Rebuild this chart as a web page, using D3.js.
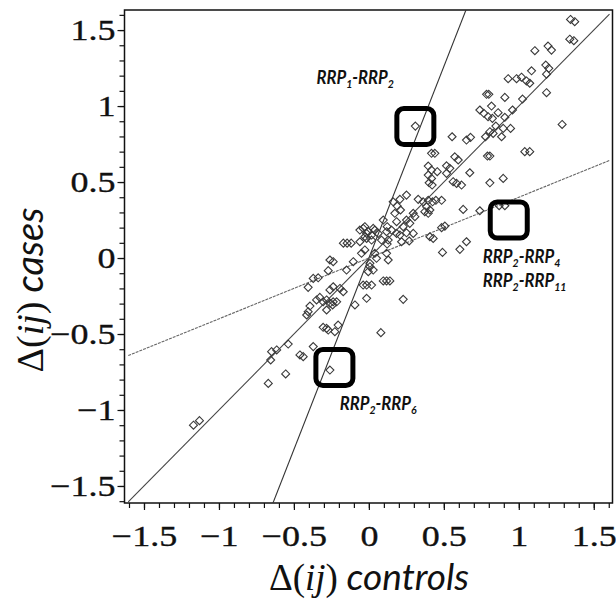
<!DOCTYPE html>
<html><head><meta charset="utf-8">
<script src="https://cdn.jsdelivr.net/npm/d3@7"></script>
<style>body{margin:0;background:#fff}</style>
</head><body><svg id="c" width="616" height="600"></svg>
<script>
// Δ(ij) controls (x) and Δ(ij) cases (y)
const controls = [1.345,1.373,1.34,1.367,1.195,1.218,1.107,1.18,1.2,1.085,1.185,0.929,0.985,1.018,1.051,1.073,0.785,0.80,0.907,1.025,1.185,0.74,0.818,0.767,0.795,0.862,0.824,0.907,0.958,0.847,0.807,0.829,0.896,0.945,0.778,0.885,1.289,1.04,1.073,0.555,0.651,0.678,0.791,0.807,0.418,0.44,0.396,0.418,0.573,0.596,0.518,0.54,0.673,0.396,0.418,0.402,0.422,0.562,0.585,0.618,0.456,0.518,0.807,0.896,0.629,0.74,0.869,0.907,0.251,0.207,0.162,0.189,0.211,0.173,0.329,0.362,0.396,0.425,0.447,0.485,0.385,0.407,0.373,0.396,0.296,0.307,0.251,0.273,0.229,0.185,0.096,0.122,0.151,0.185,0.207,-0.17,-0.145,-0.118,0.507,0.485,0.429,0.407,0.651,0.607,0.31,-0.06,-0.027,-0.004,0.018,0.04,0.062,-0.015,0.018,0.084,0.122,0.251,0.296,0.269,0.218,0.491,0.118,0.129,-0.015,-0.038,0.029,-0.027,-0.06,-0.027,-0.049,0.04,0.051,0.007,0.118,0.129,-0.104,0.007,0.029,-0.004,-0.038,-0.015,0.018,0.096,0.118,0.14,-0.015,0.229,0.08,-0.093,-0.26,-0.238,-0.271,-0.149,-0.371,-0.338,-0.405,-0.238,-0.193,-0.26,-0.171,-0.327,-0.349,-0.305,-0.282,-0.26,-0.238,-0.393,-0.415,-0.405,-0.282,-0.242,-0.215,-0.305,-0.282,-0.271,-0.227,-0.205,-0.538,-0.649,-0.615,-0.655,-0.46,-0.438,-0.555,-0.671,-0.371,-0.26,-1.17,-1.13];
const cases = [1.57,1.555,1.44,1.43,1.395,1.368,1.364,1.27,1.248,1.232,1.21,1.18,1.18,1.19,1.165,1.15,1.077,1.077,1.057,1.046,1.088,0.974,1.0,0.952,0.93,0.956,0.919,0.926,0.974,0.868,0.831,0.82,0.853,0.853,0.798,0.798,0.879,0.7,0.7,0.798,0.776,0.794,0.671,0.671,0.689,0.689,0.605,0.579,0.666,0.645,0.607,0.59,0.561,0.546,0.524,0.495,0.48,0.502,0.491,0.48,0.568,0.557,0.495,0.524,0.32,0.311,0.344,0.344,0.414,0.386,0.37,0.342,0.316,0.294,0.386,0.37,0.38,0.37,0.38,0.38,0.337,0.316,0.305,0.294,0.294,0.272,0.25,0.228,0.206,0.239,0.25,0.206,0.184,0.162,0.151,0.098,0.098,0.098,0.21,0.2,0.129,0.14,0.107,0.057,0.868,0.184,0.206,0.173,0.151,0.184,0.162,0.129,0.118,0.118,0.092,0.166,0.162,0.112,0.107,0.037,0.173,0.118,0.162,0.195,0.195,0.14,0.107,0.053,0.031,0.031,-0.002,-0.035,0.031,-0.013,-0.024,-0.057,-0.079,-0.09,-0.178,-0.178,-0.178,-0.151,-0.151,-0.151,-0.265,-0.272,-0.491,-0.309,-0.013,-0.024,-0.083,-0.079,-0.134,-0.13,-0.193,-0.189,-0.2,-0.21,-0.222,-0.259,-0.276,-0.288,-0.276,-0.298,-0.288,-0.316,-0.375,-0.353,-0.342,-0.309,-0.288,-0.456,-0.463,-0.474,-0.485,-0.441,-0.566,-0.616,-0.605,-0.671,-0.638,-0.649,-0.763,-0.825,-0.583,-0.737,-1.1,-1.07];

// fitted lines through the origin (slopes)
const lineSlopes = [2.52, 1.0, 0.40];
const lineColor = ["#333", "#444", "#666"];
const lineDash = [null, null, "3,1"];

const majorTicks = [-1.5,-1,-0.5,0,0.5,1,1.5];
const tickLabels = ["\u22121.5","\u22121","\u22120.5","0","0.5","1","1.5"];
const minorTicks = d3.range(-16,17).map(d=>d/10);

// annotation boxes (centres in data units) and labels
const boxX = [0.31, 0.933, -0.23];
const boxY = [0.865, 0.25, -0.72];
const labelText = [["RRP","1","-RRP","2"],["RRP","2","-RRP","4"],["RRP","2","-RRP","11"],["RRP","2","-RRP","6"]];
const labelX = [-0.35, 0.76, 0.76, -0.195];
const labelY = [1.145, -0.03, -0.19, -1.002];

const svg = d3.select("#c");
const x = d3.scaleLinear().domain([-1.63,1.625]).range([124.5,612.5]);
const y = d3.scaleLinear().domain([-1.612,1.632]).range([503,10]);

svg.append("defs").append("clipPath").attr("id","clip")
  .append("rect").attr("x",124.5).attr("y",10).attr("width",488).attr("height",493);

const serif = "'Liberation Serif','Times New Roman',serif";
const sans = "Lato,'Open Sans',sans-serif";
const sx = 1.2; // horizontal stretch of tick labels

// axes
const yAxisMinor = d3.axisLeft(y).tickValues(minorTicks).tickSize(5).tickFormat("");
const yAxis = d3.axisLeft(y).tickValues(majorTicks).tickSize(7).tickFormat((d,i)=>tickLabels[i]);
const xAxisMinor = d3.axisBottom(x).tickValues(minorTicks).tickSize(5).tickFormat("");
const xAxis = d3.axisBottom(x).tickValues(majorTicks).tickSize(7).tickFormat((d,i)=>tickLabels[i]);

function style(g){
  g.select(".domain").remove();
  g.selectAll("line").attr("stroke","#111").attr("stroke-width",1.2);
  g.selectAll("text").attr("font-family",serif).attr("font-size",30).attr("fill","#111")
    .attr("stroke","#111").attr("stroke-width",0.35);
}
svg.append("g").attr("transform","translate(124.5,0)").call(yAxisMinor).call(style);
svg.append("g").attr("transform","translate(124.5,0)").call(yAxis).call(style)
  .selectAll("text").attr("x",-9/sx).attr("dy","0.33em").attr("transform",`scale(${sx},1)`);
svg.append("g").attr("transform","translate(0,503)").call(xAxisMinor).call(style);
svg.append("g").attr("transform","translate(0,503)").call(xAxis).call(style)
  .selectAll("text").attr("y",43).attr("dy","0").attr("transform",`scale(${sx},1)`);

// frame
svg.append("rect").attr("x",124.5).attr("y",10).attr("width",488).attr("height",493)
  .attr("fill","none").attr("stroke","#111").attr("stroke-width",1.5);

const plot = svg.append("g").attr("clip-path","url(#clip)");

// lines
lineSlopes.forEach((m,i)=>{
  const xs = [-1.605, 1.605];
  plot.append("line")
    .attr("x1",x(xs[0])).attr("y1",y(m*xs[0]))
    .attr("x2",x(xs[1])).attr("y2",y(m*xs[1]))
    .attr("stroke",lineColor[i]).attr("stroke-width",1.1)
    .attr("stroke-dasharray",lineDash[i]);
});

// points
const r = 4;
plot.selectAll("path.pt").data(controls.map((c,i)=>[c,cases[i]])).enter().append("path")
  .attr("class","pt")
  .attr("d",d=>{const px=x(d[0]),py=y(d[1]);return `M${px},${py-r}L${px+r},${py}L${px},${py+r}L${px-r},${py}Z`;})
  .attr("fill","none").attr("stroke","#3a3a3a").attr("stroke-width",1.1);

// boxes
boxX.forEach((bx,i)=>{
  svg.append("rect").attr("x",x(bx)-18.5).attr("y",y(boxY[i])-18).attr("width",37).attr("height",36)
    .attr("rx",7).attr("fill","none").attr("stroke","#000").attr("stroke-width",5);
});

// labels
labelText.forEach((parts,i)=>{
  const t = svg.append("text")
    .attr("transform",`translate(${x(labelX[i])},${y(labelY[i])}) scale(0.88,1)`)
    .attr("font-family",sans).attr("font-weight",700).attr("font-style","italic")
    .attr("font-size",19).attr("fill","#111");
  t.append("tspan").text(parts[0]);
  t.append("tspan").attr("font-size",12).attr("dy",4).text(parts[1]);
  t.append("tspan").attr("dy",-4).text(parts[2]);
  t.append("tspan").attr("font-size",12).attr("dy",4).text(parts[3]);
});

// axis titles
function title(t){
  t.append("tspan").attr("font-family",serif).text("\u0394(");
  t.append("tspan").attr("font-family",serif).attr("font-style","italic").text("ij");
  t.append("tspan").attr("font-family",serif).text(")");
}
const xt = svg.append("text").attr("x",369).attr("y",590).attr("text-anchor","middle")
  .attr("font-size",37).attr("fill","#111");
title(xt);
xt.append("tspan").attr("font-family",sans).attr("font-style","italic").text(" controls");

const yt = svg.append("text").attr("transform","translate(43,290) rotate(-90)").attr("text-anchor","middle")
  .attr("font-size",38).attr("fill","#111");
title(yt);
yt.append("tspan").attr("font-family",sans).attr("font-style","italic").text(" cases");
</script></body></html>
